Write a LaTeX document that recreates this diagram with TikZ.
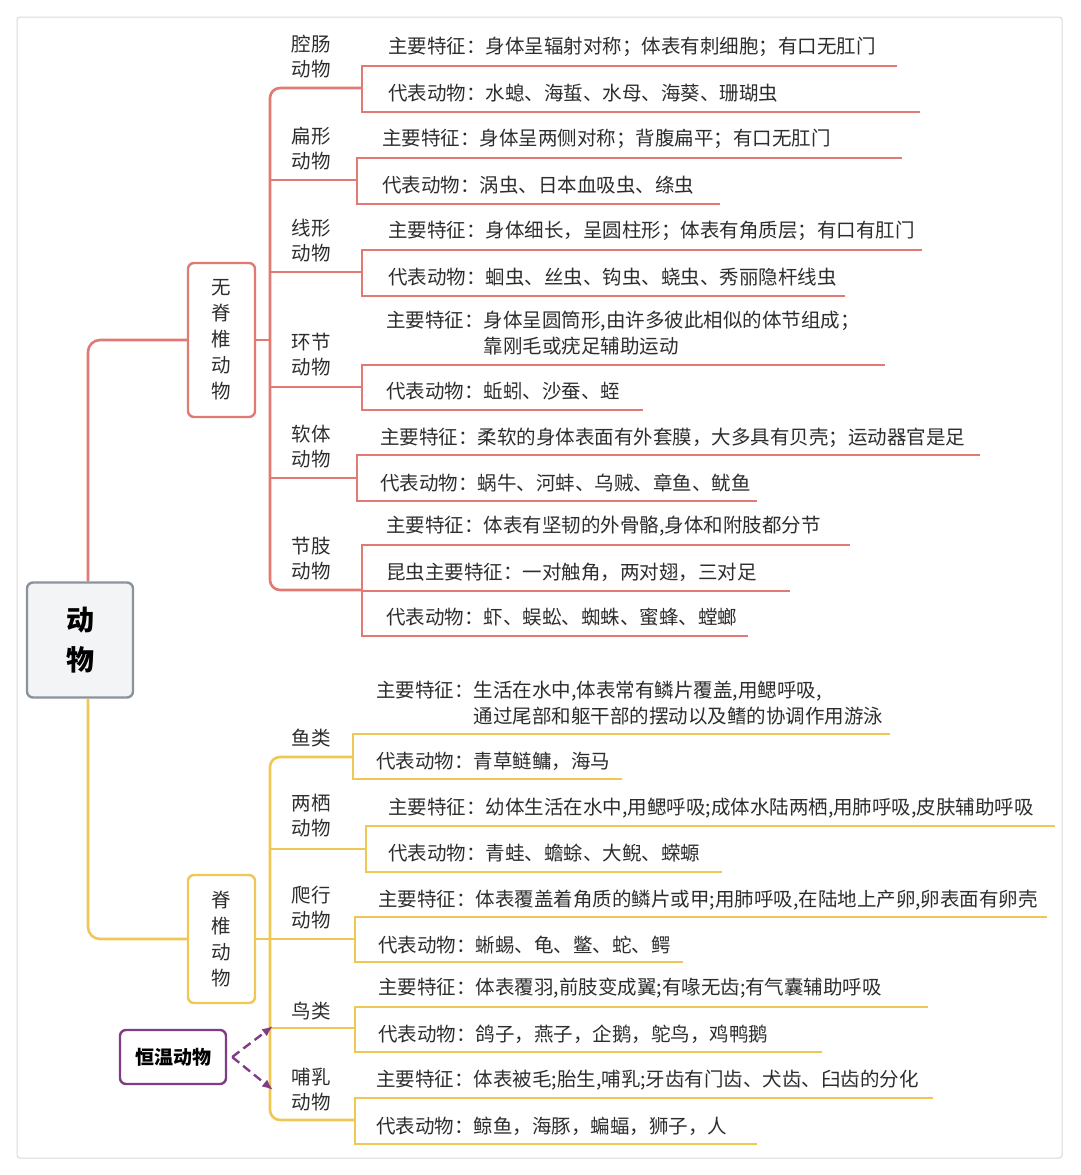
\documentclass[tikz,border=0pt]{standalone}
\usepackage{fontspec}
\setmainfont{Noto Sans CJK SC}
\usetikzlibrary{arrows.meta}
\definecolor{invc}{RGB}{224,122,114}
\definecolor{verc}{RGB}{238,200,82}
\definecolor{purc}{RGB}{128,60,132}
\definecolor{txtc}{RGB}{45,45,45}
\definecolor{rootfill}{RGB}{243,244,246}
\definecolor{rootdraw}{RGB}{140,146,156}
\begin{document}
\begin{tikzpicture}[x=1pt,y=-1pt,
  txt/.style={anchor=west,inner sep=0pt,font=\fontsize{19.5}{26}\selectfont,text=txtc,align=left},
  lab/.style={anchor=center,inner sep=0pt,font=\fontsize{19.5}{25}\selectfont,text=txtc,align=center},
  iline/.style={draw=invc,line width=2.6pt},
  vline/.style={draw=verc,line width=2.6pt},
  warmarrow/.style={purc,line width=2.4pt,dash pattern=on 9pt off 5pt,-{Latex[length=11pt,width=9pt]}},
  catbox/.style={rounded corners=6pt,line width=2.4pt,minimum width=67pt,inner sep=0pt,align=center,text=txtc,font=\fontsize{19.5}{26}\selectfont}]
\useasboundingbox (0,0) rectangle (1080,1175);
\draw[black!15,line width=1pt,rounded corners=3pt] (17,17) rectangle (1062,1158);

% root
\node[draw=rootdraw,fill=rootfill,line width=2.4pt,rounded corners=6pt,minimum width=106pt,minimum height=115pt,align=center,font=\fontsize{28}{40}\selectfont\bfseries,text=black] (root) at (80,640) {动\\物};

% category boxes
\node[catbox,draw=invc,minimum height=154pt] (inv) at (221.5,340) {无\\脊\\椎\\动\\物};
\node[catbox,draw=verc,minimum height=128pt] (ver) at (221.5,939) {脊\\椎\\动\\物};
\draw[iline,rounded corners=12pt] ([xshift=8pt]root.north) |- (inv.west);
\draw[vline,rounded corners=12pt] ([xshift=8pt]root.south) |- (ver.west);

% ---------- invertebrates ----------
\coordinate (ia) at (362,88);  \coordinate (ib) at (357,180); \coordinate (ic) at (362,272);
\coordinate (id) at (362,387); \coordinate (ie) at (357,478); \coordinate (if) at (362,590);
\coordinate (itj) at (270,340);
\draw[iline,rounded corners=10pt] (ia) -- (270,88) -- (270,590) -- (if);
\draw[iline] (inv.east) -- (itj);
\draw[iline] (270,180) -- (ib);
\draw[iline] (270,272) -- (ic);
\draw[iline] (270,387) -- (id);
\draw[iline] (270,478) -- (ie);

\node[lab] (la) at (311,57) {腔肠\\动物};
\node[lab] (lb) at (311,149) {扁形\\动物};
\node[lab] (lc) at (311,241) {线形\\动物};
\node[lab] (ld) at (311,355) {环节\\动物};
\node[lab] (le) at (311,447) {软体\\动物};
\node[lab] (lf) at (311,559) {节肢\\动物};

% brackets + underlines
\draw[iline] (897,66) -- (362,66) -- (362,112) -- (920,112);
\draw[iline] (902,158) -- (357,158) -- (357,204) -- (720,204);
\draw[iline] (922,250) -- (362,250) -- (362,296) -- (845,296);
\draw[iline] (885,365) -- (362,365) -- (362,410) -- (643,410);
\draw[iline] (980,455) -- (357,455) -- (357,501) -- (757,501);
\draw[iline] (850,545) -- (362,545) -- (362,636) -- (748,636);
\draw[iline] (362,591) -- (790,591);

\node[txt] (ta1) at (388,47) {主要特征：身体呈辐射对称；体表有刺细胞；有口无肛门};
\node[txt] (ta2) at (388,93) {代表动物：水螅、海蜇、水母、海葵、珊瑚虫};
\node[txt] (tb1) at (382,139) {主要特征：身体呈两侧对称；背腹扁平；有口无肛门};
\node[txt] (tb2) at (382,185) {代表动物：涡虫、日本血吸虫、绦虫};
\node[txt] (tc1) at (388,231) {主要特征：身体细长，呈圆柱形；体表有角质层；有口有肛门};
\node[txt] (tc2) at (388,277) {代表动物：蛔虫、丝虫、钩虫、蛲虫、秀丽隐杆线虫};
\node[txt] (td1) at (386,333) {主要特征：身体呈圆筒形,由许多彼此相似的体节组成；\\\hspace*{5em}靠刚毛或疣足辅助运动};
\node[txt] (td2) at (386,391) {代表动物：蚯蚓、沙蚕、蛭};
\node[txt] (te1) at (380,438) {主要特征：柔软的身体表面有外套膜，大多具有贝壳；运动器官是足};
\node[txt] (te2) at (380,483) {代表动物：蜗牛、河蚌、乌贼、章鱼、鱿鱼};
\node[txt] (tf1) at (386,526) {主要特征：体表有坚韧的外骨骼,身体和附肢都分节};
\node[txt] (tf2) at (386,572) {昆虫主要特征：一对触角，两对翅，三对足};
\node[txt] (tf3) at (386,617) {代表动物：虾、蜈蚣、蜘蛛、蜜蜂、螳螂};

% ---------- vertebrates ----------
\coordinate (va) at (353,757); \coordinate (vb) at (366,849); \coordinate (vc) at (355,939);
\coordinate (vd) at (355,1028); \coordinate (ve) at (355,1120);
\coordinate (vtj) at (270,939);
\draw[vline,rounded corners=10pt] (va) -- (270,757) -- (270,1120) -- (ve);
\draw[vline] (ver.east) -- (vtj);
\draw[vline] (270,849) -- (vb);
\draw[vline] (vtj) -- (vc);
\draw[vline] (270,1028) -- (vd);

\node[lab] (ma) at (311,738) {鱼类};
\node[lab] (mb) at (311,816) {两栖\\动物};
\node[lab] (mc) at (311,908) {爬行\\动物};
\node[lab] (md) at (311,1011) {鸟类};
\node[lab] (me) at (311,1090) {哺乳\\动物};

\draw[vline] (890,734) -- (353,734) -- (353,779) -- (622,779);
\draw[vline] (1055,826) -- (366,826) -- (366,872) -- (722,872);
\draw[vline] (1047,917) -- (355,917) -- (355,962) -- (683,962);
\draw[vline] (928,1007) -- (355,1007) -- (355,1052) -- (822,1052);
\draw[vline] (933,1098) -- (355,1098) -- (355,1144) -- (757,1144);

\node[txt] (sa1) at (376,703) {主要特征：生活在水中,体表常有鳞片覆盖,用鳃呼吸,\\\hspace*{5em}通过尾部和躯干部的摆动以及鳍的协调作用游泳};
\node[txt] (sa2) at (376,761) {代表动物：青草鲢鳙，海马};
\node[txt] (sb1) at (388,808) {主要特征：幼体生活在水中,用鳃呼吸;成体水陆两栖,用肺呼吸,皮肤辅助呼吸};
\node[txt] (sb2) at (388,853) {代表动物：青蛙、蟾蜍、大鲵、蝾螈};
\node[txt] (sc1) at (378,900) {主要特征：体表覆盖着角质的鳞片或甲;用肺呼吸,在陆地上产卵,卵表面有卵壳};
\node[txt] (sc2) at (378,945) {代表动物：蜥蜴、龟、鳖、蛇、鳄};
\node[txt] (sd1) at (378,988) {主要特征：体表覆羽,前肢变成翼;有喙无齿;有气囊辅助呼吸};
\node[txt] (sd2) at (378,1034) {代表动物：鸽子，燕子，企鹅，鸵鸟，鸡鸭鹅};
\node[txt] (se1) at (376,1080) {主要特征：体表被毛;胎生,哺乳;牙齿有门齿、犬齿、臼齿的分化};
\node[txt] (se2) at (376,1126) {代表动物：鲸鱼，海豚，蝙蝠，狮子，人};

% warm-blooded
\node[draw=purc,line width=2.4pt,rounded corners=6pt,minimum width=106pt,minimum height=54pt,inner sep=0pt,font=\fontsize{19}{24}\selectfont\bfseries,text=black] (warm) at (173,1057) {恒温动物};
\coordinate (wbird) at (273,1026);
\coordinate (wmam) at (273,1090);
\draw[warmarrow] ([xshift=5pt]warm.east) -- (wbird);
\draw[warmarrow] ([xshift=5pt]warm.east) -- (wmam);
\end{tikzpicture}
\end{document}
